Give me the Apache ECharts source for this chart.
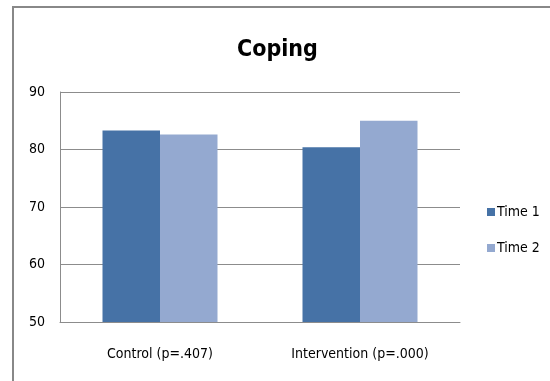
<!DOCTYPE html>
<html>
<head>
<meta charset="utf-8">
<script src="https://cdn.jsdelivr.net/npm/echarts@6/dist/echarts.min.js"></script>
<style>
  html, body { margin: 0; padding: 0; background: #fff; }
  #chart { width: 550px; height: 381px; }
</style>
</head>
<body>
<div id="chart"></div>
<script>
// Coping scores by group, measured at two time points
const categories = ['Control (p=.407)', 'Intervention (p=.000)'];
const seriesNames = ['Time 1', 'Time 2'];
const time1 = [83.3, 80.4];
const time2 = [82.6, 85.0];
const yTicks = { min: 50, max: 90, step: 10 };

const FONT = '"DejaVu Sans Condensed", "Liberation Sans Narrow", Roboto, sans-serif';
const colors = ['#4672A6', '#94A9D0'];

const chart = echarts.init(document.getElementById('chart'), null, { renderer: 'canvas' });

chart.setOption({
  animation: false,
  backgroundColor: '#ffffff',
  title: {
    text: 'Coping',
    left: 232,
    top: 34,
    textStyle: { fontFamily: FONT, fontWeight: 'bold', fontSize: 23, color: '#000' }
  },
  legend: {
    orient: 'vertical',
    left: 482,
    top: 200,
    itemWidth: 8,
    itemHeight: 8,
    itemGap: 22,
    icon: 'rect',
    data: seriesNames,
    textStyle: { fontFamily: FONT, fontSize: 14, color: '#000', padding: [0, 0, 0, -3] }
  },
  grid: { left: 60, right: 90, top: 92, bottom: 59 },
  xAxis: {
    type: 'category',
    data: categories,
    axisLine: { lineStyle: { color: '#8c8c8c', width: 1 } },
    axisTick: { show: false },
    axisLabel: { fontFamily: FONT, fontSize: 14, color: '#000', margin: 25 }
  },
  yAxis: {
    type: 'value',
    min: yTicks.min,
    max: yTicks.max,
    interval: yTicks.step,
    axisLine: { show: true, lineStyle: { color: '#8c8c8c', width: 1 } },
    axisTick: { show: false },
    splitLine: { lineStyle: { color: '#8c8c8c', width: 1 } },
    axisLabel: { fontFamily: FONT, fontSize: 14, color: '#000', margin: 15 }
  },
  series: [
    { name: seriesNames[0], type: 'bar', data: time1, barGap: '0%', barCategoryGap: '42.5%', itemStyle: { color: colors[0] } },
    { name: seriesNames[1], type: 'bar', data: time2, barGap: '0%', barCategoryGap: '42.5%', itemStyle: { color: colors[1] } }
  ],
  graphic: [
    {
      type: 'rect',
      silent: true,
      shape: { x: 13, y: 7, width: 700, height: 500 },
      style: { fill: 'none', stroke: '#888888', lineWidth: 2 }
    }
  ]
});
</script>
</body>
</html>
